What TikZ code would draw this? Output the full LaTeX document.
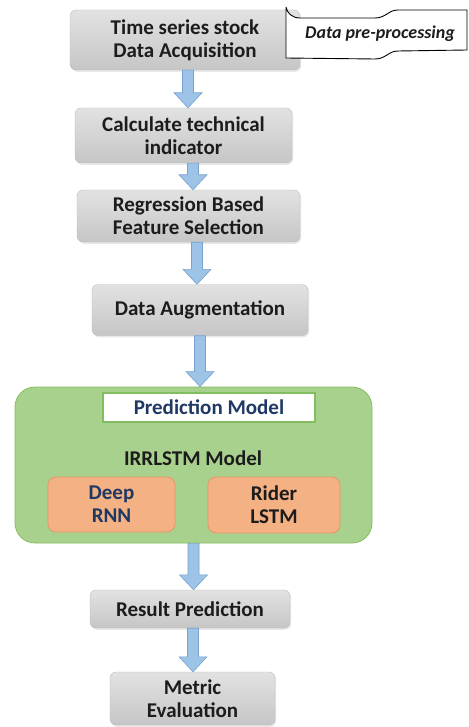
\documentclass[tikz,border=0pt]{standalone}
\usepackage{fontspec}
\setmainfont{Carlito}
\usetikzlibrary{positioning, calc, shadows}

\definecolor{boxtop}{RGB}{226,226,226}
\definecolor{boxbot}{RGB}{198,198,198}
\definecolor{boxedge}{RGB}{188,188,188}
\definecolor{arrfill}{RGB}{157,195,230}
\definecolor{arredge}{RGB}{118,163,210}
\definecolor{modfill}{RGB}{169,209,142}
\definecolor{modedge}{RGB}{130,190,95}
\definecolor{subfill}{RGB}{244,177,131}
\definecolor{subedge}{RGB}{228,150,105}
\definecolor{navy}{RGB}{31,56,100}
\definecolor{txtdark}{RGB}{28,28,28}

\begin{document}
\begin{tikzpicture}[x=1pt, y=-1pt,
    every node/.style={font=\bfseries\fontsize{21}{23}\selectfont, text=txtdark},
    proc/.style={draw=boxedge, rounded corners=6pt, align=center,
                 top color=boxtop, bottom color=boxbot, inner sep=2pt,
                 drop shadow={opacity=0.18, shadow xshift=1.2pt, shadow yshift=-1.8pt}},
    model/.style={draw=modedge, line width=0.8pt, fill=modfill, rounded corners=20pt},
    sub/.style={draw=subedge, line width=0.8pt, fill=subfill, rounded corners=8pt,
                align=center},
    title/.style={draw=modedge, line width=1.4pt, fill=white, text=navy},
    blockarr/.style={draw=arredge, fill=arrfill, line width=0.6pt,
      to path={let \p1=(\tikztostart), \p2=(\tikztotarget) in
        (\x1-5.5pt,\y1) -- (\x1-5.5pt,\y2+15pt) -- (\x1-14pt,\y2+15pt)
        -- (\x1,\y2) -- (\x1+14pt,\y2+15pt) -- (\x1+5.5pt,\y2+15pt)
        -- (\x1+5.5pt,\y1) -- cycle}},
  ]
    \fill[white] (0,0) rectangle (468,727);
    \useasboundingbox (0,0) rectangle (468,727);

    % pipeline boxes
    \node[proc, minimum width=230pt, minimum height=60pt] (acq) at (185,40)
      {Time series stock\\ Data Acquisition};
    \node[proc, minimum width=217pt, minimum height=55pt] (ind) at (183.5,135.5)
      {Calculate technical\\ indicator};
    \node[proc, minimum width=223pt, minimum height=52pt] (fs) at (188.5,216)
      {Regression Based\\ Feature Selection};
    \node[proc, minimum width=216pt, minimum height=51pt] (aug) at (200,310)
      {Data Augmentation};

    % prediction model block
    \node[model, minimum width=357pt, minimum height=156pt] (mdl) at (193.5,465) {};
    \node[title, minimum width=212pt, minimum height=29pt] (pm) at (209,407.5)
      {Prediction Model};
    \node (irr) at (193,458) {IRRLSTM Model};
    \node[sub, text=navy, minimum width=127pt, minimum height=55pt] (rnn) at (111.5,504.5)
      {Deep\\ RNN};
    \node[sub, minimum width=132pt, minimum height=56pt] (lstm) at (274,505)
      {Rider\\ LSTM};

    \node[proc, minimum width=200pt, minimum height=38pt] (res) at (190,609)
      {Result Prediction};
    \node[proc, minimum width=165pt, minimum height=53pt] (met) at (192.5,698.5)
      {Metric\\ Evaluation};

    % wave banner
    \draw[line width=0.9pt, fill=white]
      (286,7) -- (286,58) -- (375,59) .. controls (386,59) and (388,51) .. (398,51)
      -- (467,50) -- (467,10) -- (398,10) .. controls (388,10) and (386,18) .. (375,18)
      -- (300,18) .. controls (292,18) and (287,13) .. (286,7);
    \node[font=\bfseries\itshape\fontsize{18}{20}\selectfont] (prep) at (380,34)
      {Data pre-processing};

    % flow arrows
    \draw[blockarr] ([xshift=3pt]acq.south) to (ind.north);
    \draw[blockarr] ([xshift=9.5pt]ind.south) to (fs.north);
    \draw[blockarr] ([xshift=8.5pt]fs.south) to (aug.north);
    \draw[blockarr] (aug.south) to (mdl.north);
    \draw[blockarr] (mdl.south) to (res.north);
    \draw[blockarr] ([xshift=3pt]res.south) to (met.north);
  \end{tikzpicture}
\end{document}
